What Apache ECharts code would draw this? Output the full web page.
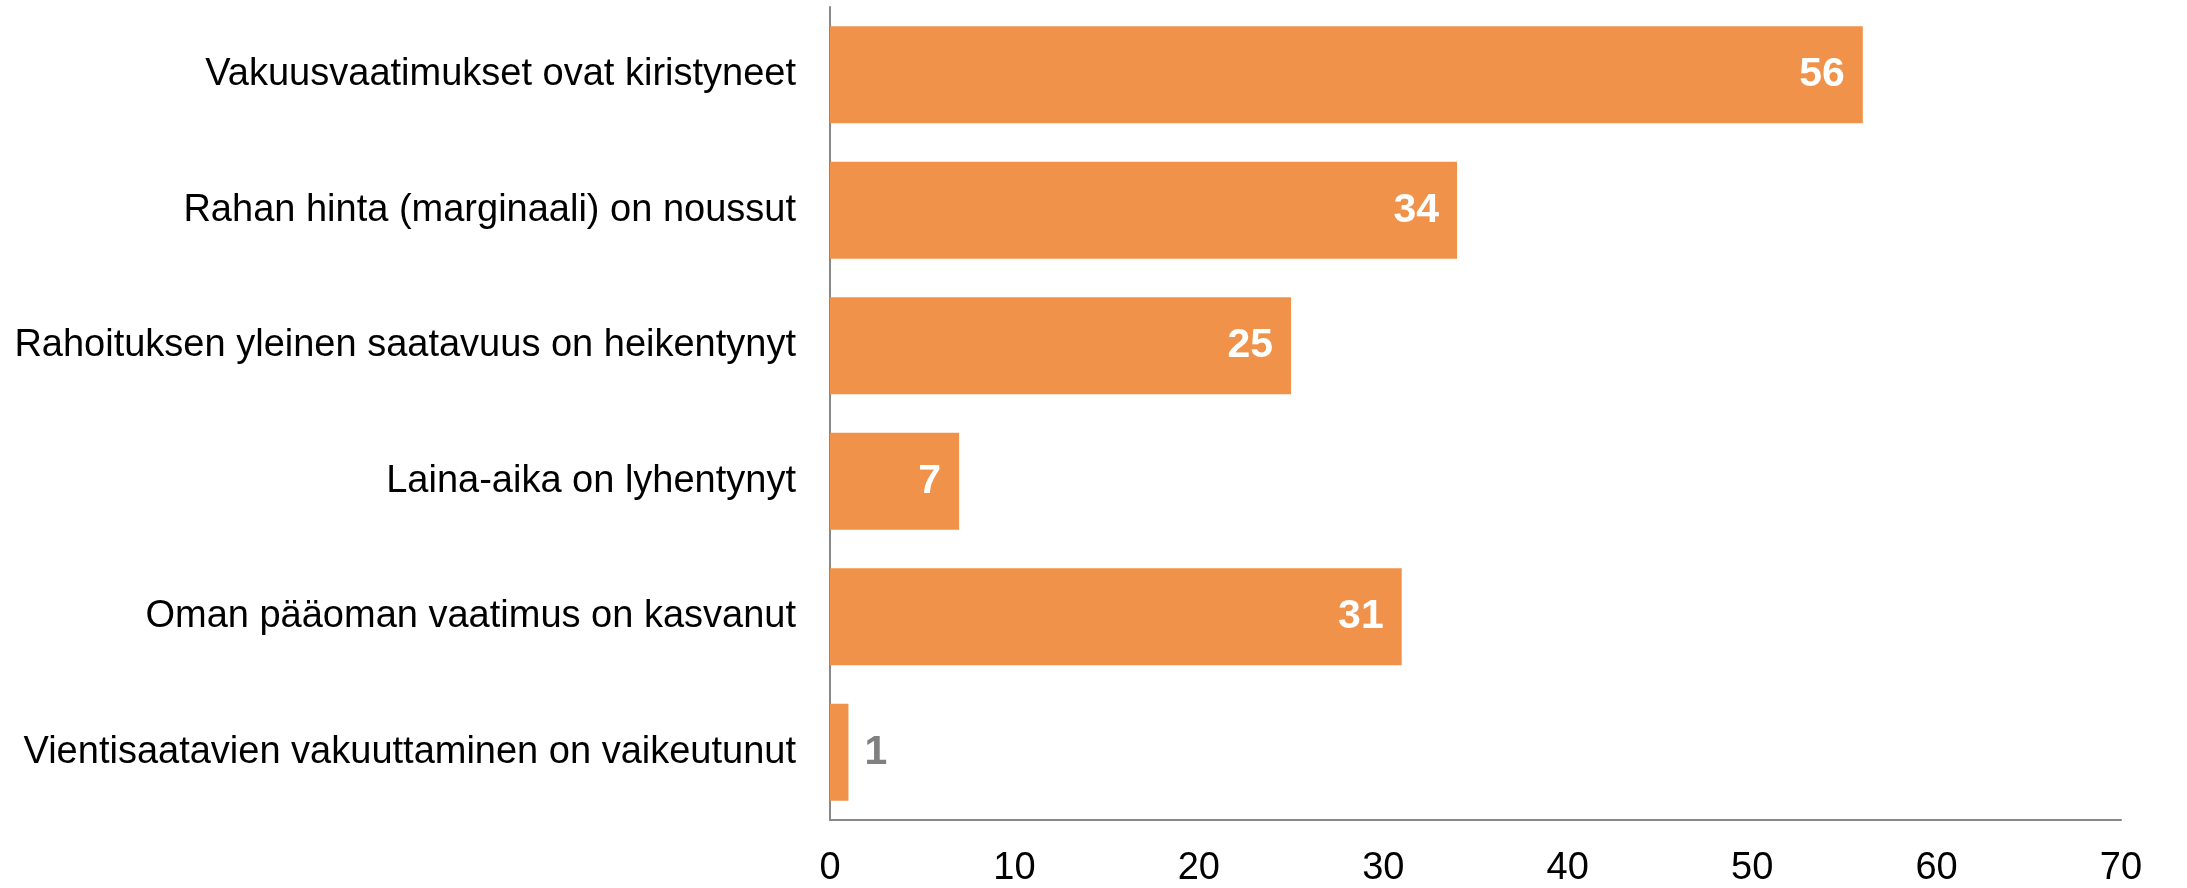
<!DOCTYPE html>
<html>
<head>
<meta charset="utf-8">
<script src="https://cdn.jsdelivr.net/npm/echarts@6/dist/echarts.min.js"></script>
<style>
html,body{margin:0;padding:0;background:#fff;}
#chart{width:2187px;height:888px;}
</style>
</head>
<body>
<div id="chart"></div>
<script>
const categories = [
  "Vakuusvaatimukset ovat kiristyneet",
  "Rahan hinta (marginaali) on noussut",
  "Rahoituksen yleinen saatavuus on heikentynyt",
  "Laina-aika on lyhentynyt",
  "Oman pääoman vaatimus on kasvanut",
  "Vientisaatavien vakuuttaminen on vaikeutunut"
];
const values = [56, 34, 25, 7, 31, 1];
const xTicks = { min: 0, max: 70, interval: 10 };

const barColor = '#F0924A';
const axisColor = '#888888';

const data = values.map(v => {
  if (v < 3) {
    return {
      value: v,
      label: { position: 'right', distance: 16, color: '#808080' }
    };
  }
  return { value: v };
});

const chart = echarts.init(document.getElementById('chart'), null, { renderer: 'canvas' });
chart.setOption({
  animation: false,
  backgroundColor: '#ffffff',
  grid: { left: 830, right: 66, top: 7, bottom: 65, containLabel: false },
  xAxis: {
    type: 'value',
    min: xTicks.min, max: xTicks.max, interval: xTicks.interval,
    axisLine: { show: true, lineStyle: { color: axisColor, width: 2 } },
    axisTick: { show: false },
    splitLine: { show: false },
    axisLabel: {
      color: '#000', fontFamily: 'Liberation Sans, Arial, sans-serif', fontSize: 38, margin: 30
    }
  },
  yAxis: {
    type: 'category',
    data: categories,
    inverse: true,
    axisLine: { show: true, lineStyle: { color: axisColor, width: 2 } },
    axisTick: { show: false },
    axisLabel: {
      color: '#000', fontFamily: 'Liberation Sans, Arial, sans-serif', fontSize: 38, margin: 34
    }
  },
  series: [{
    type: 'bar',
    data: data,
    barWidth: 97,
    itemStyle: { color: barColor },
    label: {
      show: true,
      position: 'insideRight',
      distance: 18,
      color: '#ffffff',
      fontWeight: 'bold',
      fontFamily: 'Liberation Sans, Arial, sans-serif',
      fontSize: 41
    }
  }]
});
</script>
</body>
</html>
